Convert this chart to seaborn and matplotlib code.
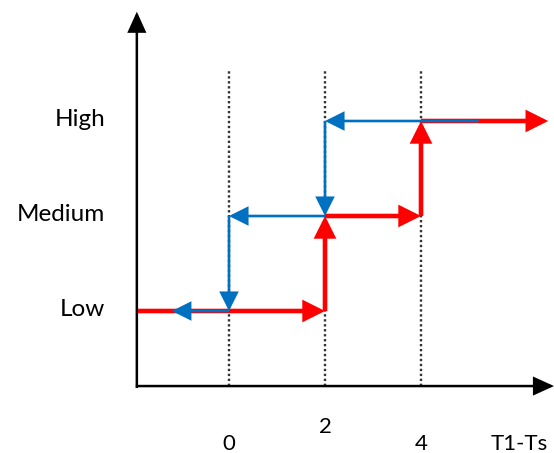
import matplotlib
matplotlib.use('Agg')

import matplotlib.pyplot as plt
import pandas as pd
import seaborn as sns
from matplotlib.patches import FancyArrowPatch

# levels and thresholds
levels = ["Low", "Medium", "High"]
level_y = [1, 2, 3]
thresholds = [0, 2, 4]
tick_labels = ["0", "2", "4"]
tick_y = [-0.46, -0.28, -0.46]
x_name = "T1-Ts"

# rising path (red) and falling path (blue): start x, start level, end x, end level
red_x0 = [-1.9, 2, 2, 4, 4]
red_y0 = [1, 1, 2, 2, 3]
red_x1 = [2, 2, 4, 4, 6.65]
red_y1 = [1, 2, 2, 3, 3]

blue_x0 = [5.2, 2, 2, 0, 0]
blue_y0 = [3, 3, 2, 2, 1]
blue_x1 = [2, 2, 0, 0, -1.19]
blue_y1 = [3, 2, 2, 1, 1]

sns.set_theme(style="white")
plt.rcParams['font.family'] = ['Lato', 'DejaVu Sans']

fig = plt.figure(figsize=(5.54, 4.53), dpi=100)
ax = fig.add_axes([0, 0, 1, 1])

x_axis_y = 0.21
y_axis_x = -1.92

# dotted guides
guides = pd.DataFrame({
    "x": [t for t in thresholds for _ in range(2)],
    "y": [x_axis_y, 3.54] * len(thresholds),
    "t": [t for t in thresholds for _ in range(2)],
})
sns.lineplot(data=guides, x="x", y="y", units="t", estimator=None, ax=ax,
             color="#333333", linestyle=(0, (1, 1.1)), linewidth=1.7, zorder=1)
ax.set_xlim(-229 / 48, 325 / 48)
ax.set_ylim(-47 / 95, 406 / 95)
ax.axis('off')


def arrow(x0, y0, x1, y1, color, lw, z, hl=1.0, hw=0.5, ms=11):
    a = FancyArrowPatch((x0, y0), (x1, y1),
                        arrowstyle=f"-|>,head_length={hl},head_width={hw}",
                        mutation_scale=ms, color=color, linewidth=lw,
                        shrinkA=0, shrinkB=0, zorder=z, joinstyle='miter',
                        capstyle='butt')
    ax.add_patch(a)


# axes with arrows
arrow(y_axis_x, x_axis_y - 0.02, y_axis_x, 4.15, "black", 1.8, 2, hl=1.1, hw=0.5)
arrow(y_axis_x - 0.02, x_axis_y, 325 / 48, x_axis_y, "black", 1.8, 2, hl=1.1, hw=0.5)

for x0, y0, x1, y1 in zip(red_x0, red_y0, red_x1, red_y1):
    arrow(x0, y0, x1, y1, "#ff0000", 3.3, 3)

for x0, y0, x1, y1 in zip(blue_x0, blue_y0, blue_x1, blue_y1):
    arrow(x0, y0, x1, y1, "#0070c0", 1.9, 4)

# level labels
for name, y in zip(levels, level_y):
    ax.text(-2.58, y - 0.055, name, ha="right", va="baseline", fontsize=17.5, color="black")

# threshold labels
for t, lab, ty in zip(thresholds, tick_labels, tick_y):
    ax.text(t, ty, lab, ha="center", va="baseline", fontsize=16, color="black")
ax.text(6.05, -0.46, x_name, ha="center", va="baseline", fontsize=16, color="black")

fig.savefig("out.png", dpi=100)
